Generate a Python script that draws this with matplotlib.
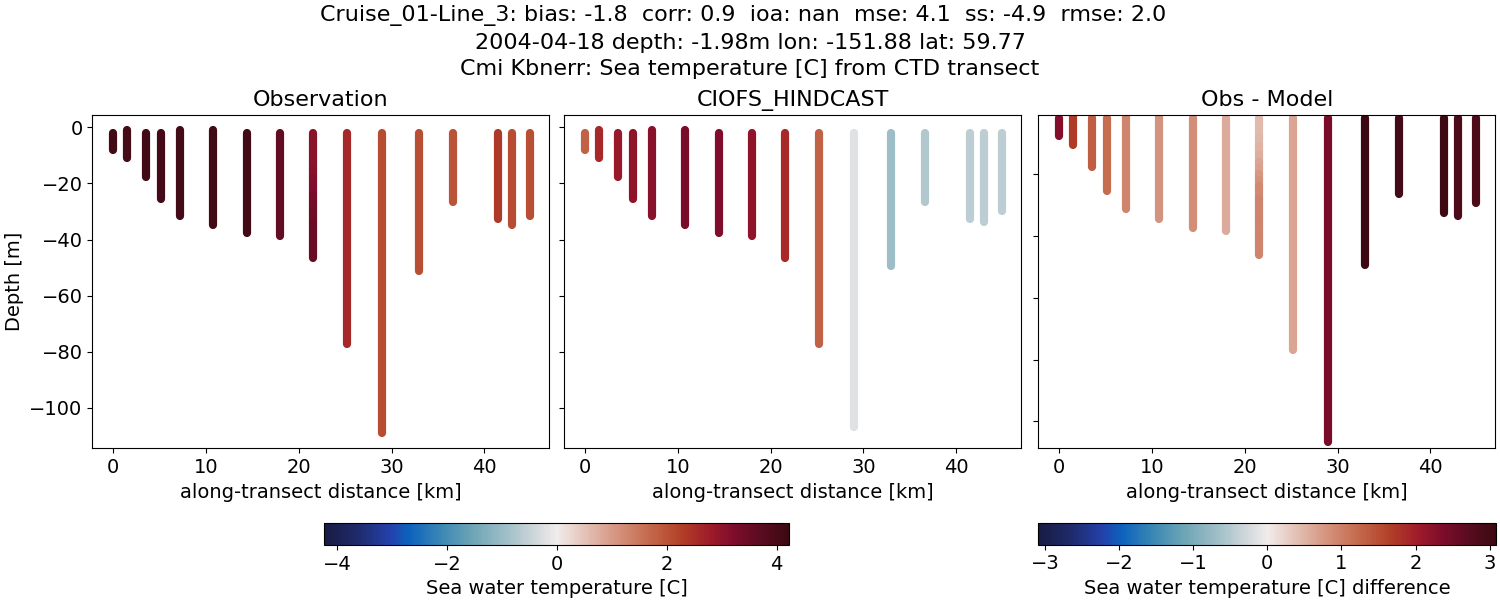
"""
CTD transect comparison: observation, model and difference panels
"""
import matplotlib
matplotlib.use('Agg')
import matplotlib.pyplot as plt
from matplotlib.cm import ScalarMappable
from matplotlib.collections import LineCollection
from matplotlib.colors import LinearSegmentedColormap, Normalize

plt.rcParams['font.size'] = 14

cast_km = [0.0, 1.47, 3.55, 5.15, 7.25, 10.75, 14.4, 17.95, 21.55, 25.25,
           28.95, 33.0, 36.65, 41.5, 43.0, 44.95]

# depth knots [m] and value knots for every cast
obs_depth = [[-2, -7.9], [-1, -10.8], [-2, -17.7], [-2, -25.7], [-1, -31.6],
             [-1, -34.7], [-2, -37.7], [-2, -38.6],
             [-2, -8, -12, -15, -18, -21, -24, -27, -30, -34, -40, -46.4],
             [-2, -77.1], [-2, -108.8], [-2, -51.2], [-2, -26.6],
             [-2, -32.7], [-2, -34.7], [-2, -31.6]]
obs_temp = [[4.1, 4.1], [4.0, 4.0], [4.1, 4.1], [4.05, 4.05], [4.05, 4.05],
            [4.1, 4.1], [4.1, 4.1], [3.6, 3.6],
            [3.05, 3.05, 3.07, 3.1, 3.15, 3.2, 3.28, 3.35, 3.42, 3.5, 3.5, 3.5],
            [2.6, 2.6], [2.1, 2.1], [2.05, 2.05], [2.0, 2.0],
            [2.35, 2.35], [2.1, 2.1], [2.05, 2.05]]

model_depth = [[-2, -7.9], [-1, -10.8], [-2, -17.7], [-2, -25.7], [-1, -31.6],
               [-1, -34.7], [-2, -37.7], [-2, -38.6], [-2, -46.4],
               [-2, -77.1], [-2, -106.8], [-2, -49.4], [-2, -26.6],
               [-2, -32.7], [-2, -33.6], [-2, -29.7]]
model_temp = [[1.8, 1.8], [2.6, 2.6], [2.85, 2.85], [3.0, 3.0], [3.1, 3.1],
              [3.3, 3.3], [3.2, 3.2], [3.0, 3.0], [2.6, 2.6],
              [1.8, 1.8], [-0.22, -0.22], [-0.95, -0.95], [-0.7, -0.7],
              [-0.62, -0.62], [-0.62, -0.62], [-0.62, -0.62]]

diff_depth = [[-2, -7.7], [-1, -10.7], [-2, -17.6], [-2, -25.5], [-1, -31.4],
              [-1, -34.5], [-2, -37.4], [-2, -38.4],
              [-2, -8, -11, -14, -16, -18, -20, -22, -24, -28, -34, -40, -46.3],
              [-2, -76.8], [-2, -106.6], [-2, -49.3], [-2, -26.5],
              [-2, -32.5], [-2, -33.5], [-2, -29.5]]
diff_temp = [[2.3, 2.3], [1.7, 1.7], [1.35, 1.35], [1.2, 1.2], [0.95, 0.95],
             [0.8, 0.8], [0.85, 0.85], [0.6, 0.6],
             [0.45, 0.48, 0.52, 0.57, 0.63, 0.7, 0.77, 0.84, 0.9, 0.95, 0.95, 0.95, 0.95],
             [0.65, 0.65], [2.4, 2.4], [3.09, 3.09], [2.95, 2.95],
             [3.05, 3.05], [2.85, 2.85], [2.85, 2.85]]

temp_lim = 4.23
diff_lim = 3.09
depth_ticks = [0, -20, -40, -60, -80, -100]
km_ticks = [0, 10, 20, 30, 40]
temp_ticks = [-4, -2, 0, 2, 4]
diff_ticks = [-3, -2, -1, 0, 1, 2, 3]

# close to the cmocean balance colormap
balance = LinearSegmentedColormap.from_list('balance', [
    (0.00, '#181c43'), (0.07, '#1f2a6b'), (0.14, '#2441ab'), (0.18, '#0b62bd'),
    (0.25, '#3b88b4'), (0.32, '#6fa5b6'), (0.40, '#a6c2ca'), (0.46, '#d5dadd'),
    (0.50, '#f1ecec'), (0.56, '#e4c3b8'), (0.62, '#d79a86'), (0.70, '#c5694c'),
    (0.77, '#b13f27'), (0.83, '#9f1b2a'), (0.88, '#7f0d2b'), (0.94, '#590c20'),
    (1.00, '#3c0912'),
], N=256)


def draw_casts(ax, depths, values, norm):
    """Draw each cast as thick round-capped segments coloured by value"""
    segments = []
    colors = []
    for km, dep, val in zip(cast_km, depths, values):
        for i in range(len(dep) - 1):
            segments.append([(km, dep[i]), (km, dep[i + 1])])
            colors.append(val[i])
    lines = LineCollection(segments, cmap=balance, norm=norm, linewidths=5.9,
                           capstyle='round')
    lines.set_array(colors)
    ax.add_collection(lines)


fig = plt.figure(figsize=(15, 6), dpi=100)

temp_norm = Normalize(-temp_lim, temp_lim)
diff_norm = Normalize(-diff_lim, diff_lim)


def add_axes(left, right, top=115.3, bottom=448.3):
    return fig.add_axes([left / 1500, 1 - bottom / 600,
                         (right - left) / 1500, (bottom - top) / 600])


ax1 = add_axes(92.3, 549.3)
ax2 = add_axes(564.2, 1021.2)
ax3 = add_axes(1038.3, 1495.3)

draw_casts(ax1, obs_depth, obs_temp, temp_norm)
draw_casts(ax2, model_depth, model_temp, temp_norm)
draw_casts(ax3, diff_depth, diff_temp, diff_norm)

for ax, title in zip([ax1, ax2, ax3],
                     ['Observation', 'CIOFS_HINDCAST', 'Obs - Model']):
    ax.set_xlim(-2.25, 47.0)
    ax.set_xticks(km_ticks)
    ax.set_yticks(depth_ticks)
    ax.set_xlabel('along-transect distance [km]', fontsize=14)
    ax.set_title(title, fontsize=16, pad=6.5)

ax1.set_ylim(-114.4, 4.3)
ax2.set_ylim(-114.4, 4.3)
ax3.set_ylim(-108.7, -1.0)
ax3.set_yticks([-20, -40, -60, -80, -100])
ax1.set_ylabel('Depth [m]', fontsize=14)
ax2.set_yticklabels([])
ax3.set_yticklabels([])

cax1 = fig.add_axes([324.3 / 1500, 1 - 545 / 600, 465 / 1500, 22.3 / 600])
cbar1 = fig.colorbar(ScalarMappable(norm=temp_norm, cmap=balance), cax=cax1,
                     orientation='horizontal')
cbar1.set_ticks(temp_ticks)
cbar1.set_label('Sea water temperature [C]', fontsize=14)

cax2 = fig.add_axes([1038.3 / 1500, 1 - 544.5 / 600, 458 / 1500, 21.8 / 600])
cbar2 = fig.colorbar(ScalarMappable(norm=diff_norm, cmap=balance), cax=cax2,
                     orientation='horizontal')
cbar2.set_ticks(diff_ticks)
cbar2.set_label('Sea water temperature [C] difference', fontsize=14)

# first line carries trailing spaces, which shift it left of the others
fig.text(0.5, 1 - 5.5 / 600,
         'Cruise_01-Line_3: bias: -1.8  corr: 0.9  ioa: nan  mse: 4.1  ss: -4.9  rmse: 2.0  \n'
         '2004-04-18 depth: -1.98m lon: -151.88 lat: 59.77\n'
         'Cmi Kbnerr: Sea temperature [C] from CTD transect',
         ha='center', va='top', fontsize=16, linespacing=1.38)

fig.savefig('out.png', dpi=100)
plt.close(fig)
